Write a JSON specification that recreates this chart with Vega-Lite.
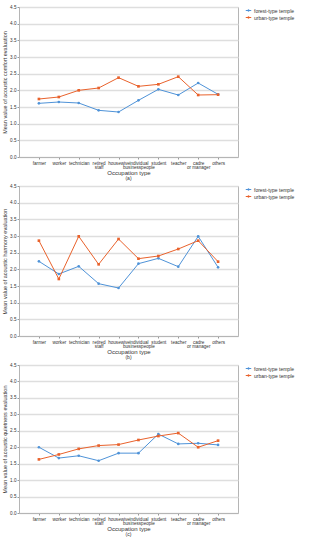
{
  "$schema": "https://vega.github.io/schema/vega-lite/v6.json",
  "padding": {"left": 2, "top": 3, "right": 2, "bottom": 0},
  "spacing": 0,
  "datasets": {
    "d": [
      {"panel": "a", "type": "forest-type temple", "occ": "farmer", "v": 1.61},
      {"panel": "a", "type": "forest-type temple", "occ": "worker", "v": 1.65},
      {"panel": "a", "type": "forest-type temple", "occ": "technician", "v": 1.62},
      {"panel": "a", "type": "forest-type temple", "occ": "retired staff", "v": 1.40},
      {"panel": "a", "type": "forest-type temple", "occ": "housewive", "v": 1.35},
      {"panel": "a", "type": "forest-type temple", "occ": "individual businesspeople", "v": 1.70},
      {"panel": "a", "type": "forest-type temple", "occ": "student", "v": 2.03},
      {"panel": "a", "type": "forest-type temple", "occ": "teacher", "v": 1.86},
      {"panel": "a", "type": "forest-type temple", "occ": "cadre or manager", "v": 2.22},
      {"panel": "a", "type": "forest-type temple", "occ": "others", "v": 1.88},
      {"panel": "a", "type": "urban-type temple", "occ": "farmer", "v": 1.74},
      {"panel": "a", "type": "urban-type temple", "occ": "worker", "v": 1.80},
      {"panel": "a", "type": "urban-type temple", "occ": "technician", "v": 2.00},
      {"panel": "a", "type": "urban-type temple", "occ": "retired staff", "v": 2.07},
      {"panel": "a", "type": "urban-type temple", "occ": "housewive", "v": 2.38},
      {"panel": "a", "type": "urban-type temple", "occ": "individual businesspeople", "v": 2.12},
      {"panel": "a", "type": "urban-type temple", "occ": "student", "v": 2.18},
      {"panel": "a", "type": "urban-type temple", "occ": "teacher", "v": 2.41},
      {"panel": "a", "type": "urban-type temple", "occ": "cadre or manager", "v": 1.86},
      {"panel": "a", "type": "urban-type temple", "occ": "others", "v": 1.87},
      {"panel": "b", "type": "forest-type temple", "occ": "farmer", "v": 2.24},
      {"panel": "b", "type": "forest-type temple", "occ": "worker", "v": 1.86},
      {"panel": "b", "type": "forest-type temple", "occ": "technician", "v": 2.09},
      {"panel": "b", "type": "forest-type temple", "occ": "retired staff", "v": 1.57},
      {"panel": "b", "type": "forest-type temple", "occ": "housewive", "v": 1.44},
      {"panel": "b", "type": "forest-type temple", "occ": "individual businesspeople", "v": 2.17},
      {"panel": "b", "type": "forest-type temple", "occ": "student", "v": 2.33},
      {"panel": "b", "type": "forest-type temple", "occ": "teacher", "v": 2.08},
      {"panel": "b", "type": "forest-type temple", "occ": "cadre or manager", "v": 2.99},
      {"panel": "b", "type": "forest-type temple", "occ": "others", "v": 2.06},
      {"panel": "b", "type": "urban-type temple", "occ": "farmer", "v": 2.86},
      {"panel": "b", "type": "urban-type temple", "occ": "worker", "v": 1.71},
      {"panel": "b", "type": "urban-type temple", "occ": "technician", "v": 2.99},
      {"panel": "b", "type": "urban-type temple", "occ": "retired staff", "v": 2.15},
      {"panel": "b", "type": "urban-type temple", "occ": "housewive", "v": 2.91},
      {"panel": "b", "type": "urban-type temple", "occ": "individual businesspeople", "v": 2.32},
      {"panel": "b", "type": "urban-type temple", "occ": "student", "v": 2.40},
      {"panel": "b", "type": "urban-type temple", "occ": "teacher", "v": 2.61},
      {"panel": "b", "type": "urban-type temple", "occ": "cadre or manager", "v": 2.86},
      {"panel": "b", "type": "urban-type temple", "occ": "others", "v": 2.23},
      {"panel": "c", "type": "forest-type temple", "occ": "farmer", "v": 2.00},
      {"panel": "c", "type": "forest-type temple", "occ": "worker", "v": 1.67},
      {"panel": "c", "type": "forest-type temple", "occ": "technician", "v": 1.74},
      {"panel": "c", "type": "forest-type temple", "occ": "retired staff", "v": 1.59},
      {"panel": "c", "type": "forest-type temple", "occ": "housewive", "v": 1.82},
      {"panel": "c", "type": "forest-type temple", "occ": "individual businesspeople", "v": 1.82},
      {"panel": "c", "type": "forest-type temple", "occ": "student", "v": 2.40},
      {"panel": "c", "type": "forest-type temple", "occ": "teacher", "v": 2.10},
      {"panel": "c", "type": "forest-type temple", "occ": "cadre or manager", "v": 2.12},
      {"panel": "c", "type": "forest-type temple", "occ": "others", "v": 2.07},
      {"panel": "c", "type": "urban-type temple", "occ": "farmer", "v": 1.63},
      {"panel": "c", "type": "urban-type temple", "occ": "worker", "v": 1.78},
      {"panel": "c", "type": "urban-type temple", "occ": "technician", "v": 1.95},
      {"panel": "c", "type": "urban-type temple", "occ": "retired staff", "v": 2.05},
      {"panel": "c", "type": "urban-type temple", "occ": "housewive", "v": 2.08},
      {"panel": "c", "type": "urban-type temple", "occ": "individual businesspeople", "v": 2.22},
      {"panel": "c", "type": "urban-type temple", "occ": "student", "v": 2.34},
      {"panel": "c", "type": "urban-type temple", "occ": "teacher", "v": 2.43},
      {"panel": "c", "type": "urban-type temple", "occ": "cadre or manager", "v": 2.00},
      {"panel": "c", "type": "urban-type temple", "occ": "others", "v": 2.20}
    ]
  },
  "resolve": {"legend": {"color": "independent"}},
  "vconcat": [
    {
      "width": 219, "height": 150,
      "data": {"name": "d"},
      "transform": [{"filter": "datum.panel == 'a'"}],
      "title": {"text": "(a)", "orient": "bottom"},
      "encoding": {
        "x": {"field": "occ", "type": "ordinal", "sort": null, "title": "Occupation type", "scale": {"type": "point", "padding": 1}},
        "y": {"field": "v", "type": "quantitative", "title": "Mean value of acoustic comfort evaluation", "scale": {"domain": [0, 4.5]}, "axis": {"values": [0, 0.5, 1, 1.5, 2, 2.5, 3, 3.5, 4, 4.5]}},
        "color": {"field": "type", "type": "nominal", "title": null, "scale": {"range": ["#4f93d8", "#e9622c"]}}
      },
      "layer": [
        {"mark": {"type": "line", "strokeWidth": 1}},
        {"mark": {"type": "point", "filled": true, "size": 7, "opacity": 1}, "encoding": {"shape": {"field": "type", "type": "nominal", "legend": null, "scale": {"range": ["circle", "square"]}}}}
      ]
    },
    {
      "width": 219, "height": 150,
      "data": {"name": "d"},
      "transform": [{"filter": "datum.panel == 'b'"}],
      "title": {"text": "(b)", "orient": "bottom"},
      "encoding": {
        "x": {"field": "occ", "type": "ordinal", "sort": null, "title": "Occupation type", "scale": {"type": "point", "padding": 1}},
        "y": {"field": "v", "type": "quantitative", "title": "Mean value of acoustic harmony evaluation", "scale": {"domain": [0, 4.5]}, "axis": {"values": [0, 0.5, 1, 1.5, 2, 2.5, 3, 3.5, 4, 4.5]}},
        "color": {"field": "type", "type": "nominal", "title": null, "scale": {"range": ["#4f93d8", "#e9622c"]}}
      },
      "layer": [
        {"mark": {"type": "line", "strokeWidth": 1}},
        {"mark": {"type": "point", "filled": true, "size": 7, "opacity": 1}, "encoding": {"shape": {"field": "type", "type": "nominal", "legend": null, "scale": {"range": ["circle", "square"]}}}}
      ]
    },
    {
      "width": 219, "height": 148,
      "data": {"name": "d"},
      "transform": [{"filter": "datum.panel == 'c'"}],
      "title": {"text": "(c)", "orient": "bottom"},
      "encoding": {
        "x": {"field": "occ", "type": "ordinal", "sort": null, "title": "Occupation type", "scale": {"type": "point", "padding": 1}},
        "y": {"field": "v", "type": "quantitative", "title": "Mean value of acoustic quietness evaluation", "scale": {"domain": [0, 4.5]}, "axis": {"values": [0, 0.5, 1, 1.5, 2, 2.5, 3, 3.5, 4, 4.5]}},
        "color": {"field": "type", "type": "nominal", "title": null, "scale": {"range": ["#4f93d8", "#e9622c"]}}
      },
      "layer": [
        {"mark": {"type": "line", "strokeWidth": 1}},
        {"mark": {"type": "point", "filled": true, "size": 7, "opacity": 1}, "encoding": {"shape": {"field": "type", "type": "nominal", "legend": null, "scale": {"range": ["circle", "square"]}}}}
      ]
    }
  ],
  "config": {
    "font": "Liberation Sans",
    "view": {"stroke": "#b5b5b5", "strokeWidth": 1},
    "title": {"fontSize": 5, "fontWeight": "normal", "color": "#333", "offset": 1},
    "axis": {"labelFontSize": 4.6, "titleFontSize": 6, "labelColor": "#333", "titleColor": "#333", "titleFontWeight": "normal", "domainColor": "#b5b5b5", "tickColor": "#999", "tickSize": 2},
    "axisY": {"grid": true, "gridColor": "#dedede", "gridWidth": 1.3, "format": ".1f", "titleFontSize": 5.5, "titlePadding": 2, "labelPadding": 1},
    "axisX": {"grid": false, "labelAngle": 0, "labelPadding": 1, "titlePadding": 0, "labelLineHeight": 4.6, "labelExpr": "datum.label == 'retired staff' ? ['retired', 'staff'] : datum.label == 'individual businesspeople' ? ['individual', 'businesspeople'] : datum.label == 'cadre or manager' ? ['cadre', 'or manager'] : datum.label", "labelBaseline": "top", "labelOverlap": false},
    "legend": {"labelFontSize": 5, "labelColor": "#333", "symbolSize": 30, "symbolType": "M-1,0H1M-0.22,-0.22H0.22V0.22H-0.22Z", "symbolStrokeWidth": 1, "rowPadding": 0, "offset": 7, "padding": 0, "labelOffset": 2}
  }
}
